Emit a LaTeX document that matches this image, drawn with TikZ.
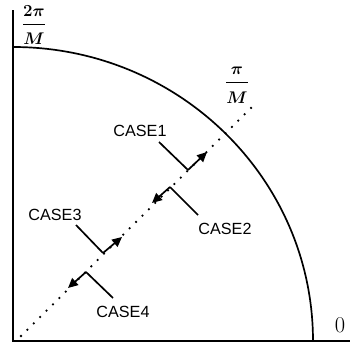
\documentclass[tikz,border=0pt]{standalone}
\usepackage{fontspec}
\usepackage{amsmath}
\usetikzlibrary{arrows.meta}
\newfontfamily\casefont{Liberation Sans}

\begin{document}
\begin{tikzpicture}[x=0.025cm, y=0.025cm,
    case/.style={font=\casefont\fontsize{11.5}{13}\selectfont, inner sep=1pt},
    frac/.style={font=\fontsize{13}{15}\selectfont\boldmath, inner sep=0pt},
    lead/.style={line width=1.2pt},
    arr/.style={line width=1.2pt, -{Triangle[length=7pt, width=6.5pt]}}]
    \useasboundingbox (-13,-4) rectangle (337,341);
    % axes and the arc
    \coordinate (o) at (0,0);
    \coordinate (ytop) at (0,331);
    \coordinate (xend) at (337,0);
    \draw[line width=1.5pt] (ytop) -- (o) -- (xend);
    \draw[line width=1.2pt] (0,294) arc[start angle=90, end angle=0, x radius=300, y radius=294];
    % dotted line at pi/M
    \coordinate (d0) at (8,5);
    \coordinate (d1) at (239,234);
    \draw[line width=1.8pt, line cap=round, dash pattern=on 0pt off 6.4pt] (d0) -- (d1);
    % labels
    \node[frac] (twopi) at (21,316) {$\dfrac{2\pi}{\rule{0pt}{2.3ex}M}$};
    \node[frac] (pim) at (224,256) {$\dfrac{\pi}{\rule{0pt}{2.3ex}M}$};
    \node[font=\fontsize{16}{18}\selectfont] (zero) at (327,16) {0};
    \node[case] (l1) at (127,210) {CASE1};
    \node[case] (l2) at (212,112) {CASE2};
    \node[case] (l3) at (42,126) {CASE3};
    \node[case] (l4) at (110,29) {CASE4};
    % corners, tips and leader ends
    \coordinate (c1) at (175,171);
    \coordinate (t1) at (194,189);
    \coordinate (s1) at (146,199);
    \coordinate (c2) at (157,154);
    \coordinate (t2) at (139,138);
    \coordinate (s2) at (185,126);
    \coordinate (c3) at (90,88);
    \coordinate (t3) at (109,104);
    \coordinate (s3) at (63,116);
    \coordinate (c4) at (73,69);
    \coordinate (t4) at (55,53);
    \coordinate (s4) at (100,43);
    \foreach \i in {1,...,4}{
        \draw[lead] (s\i) -- (c\i);
        \draw[arr] (c\i) -- (t\i);
    }
\end{tikzpicture}
\end{document}
